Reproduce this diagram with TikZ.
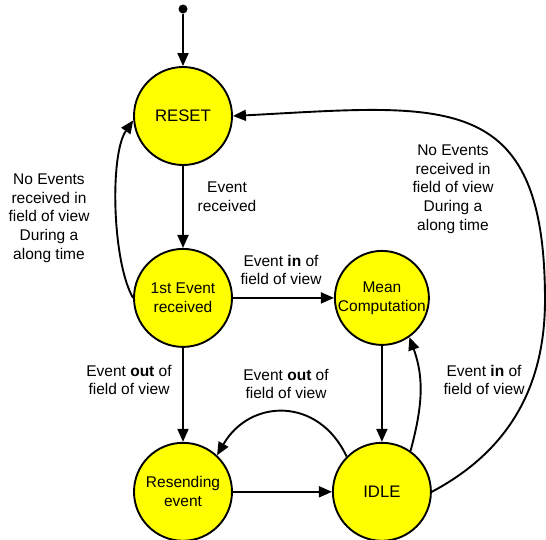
\documentclass[tikz,border=0pt]{standalone}
\usepackage{fontspec}
\setmainfont{Liberation Sans}
\usetikzlibrary{positioning,arrows.meta}
\definecolor{statefill}{RGB}{255,255,0}

\begin{document}
\begin{tikzpicture}[
    x=1pt, y=1pt,
    every node/.style={font=\fontsize{15.5}{19}\selectfont},
    state/.style={
        draw,
        circle,
        line width=1.9pt,
        fill=statefill,
        minimum size=98pt,
        inner sep=0pt,
        align=center
    },
    big/.style={font=\fontsize{16.7}{19}\selectfont},
    lbl/.style={align=center, font=\fontsize{15.5}{18.7}\selectfont},
    trans/.style={-{Triangle[length=13pt,width=11pt]}, line width=1.9pt}
]
\useasboundingbox (0,0) rectangle (546,-539);
\node[state, big] (reset) at (183,-116) {RESET};
\node[state, below=82pt of reset] (first) {1st Event\\received};
\node[state, minimum size=94pt, right=101pt of first] (mean) {Mean\\Computation};
\node[state, below=94pt of first] (resend) {Resending\\event};
\node[state, big, right=99pt of resend] (idle) {IDLE};
\node[circle, fill, inner sep=0pt, minimum size=9pt] (init) at (183,-9) {};
\coordinate (loopR) at (545,-300);

\node[lbl] (lblRecv) at (227,-197) {Event\\received};
\node[lbl] (lblWaitL) at (49,-218)
{No Events\\received in\\field of view\\During a\\along time};
\node[lbl] (lblInA) at (281,-270) {Event \textbf{in} of\\field of view};
\node[lbl] (lblOutA) at (129,-380) {Event \textbf{out} of\\field of view};
\node[lbl] (lblOutB) at (286,-384) {Event \textbf{out} of\\field of view};
\node[lbl] (lblInB) at (484,-380) {Event \textbf{in} of\\field of view};
\node[lbl] (lblWaitR) at (453,-189)
{No Events\\received in\\field of view\\During a\\along time};

\draw[trans] (init) -- (reset);
\draw[trans] (reset) -- (first);
\draw[trans] (first.west) to[out=120,in=235,looseness=0.6] (reset.185);
\draw[trans] (first) -- (mean);
\draw[trans] (first) -- (resend);
\draw[trans] (mean) -- (idle);
\draw[trans] (resend) -- (idle);
\draw[trans] (idle.55) to[out=75,in=-70] (mean.-55);
\draw[trans] (idle.135) to[out=115,in=60,looseness=1.3] (resend.47);
\draw[trans] (idle.east) to[out=28,in=-90] (loopR)
    to[out=90,in=3,looseness=1.5] (reset.east);
\end{tikzpicture}
\end{document}
